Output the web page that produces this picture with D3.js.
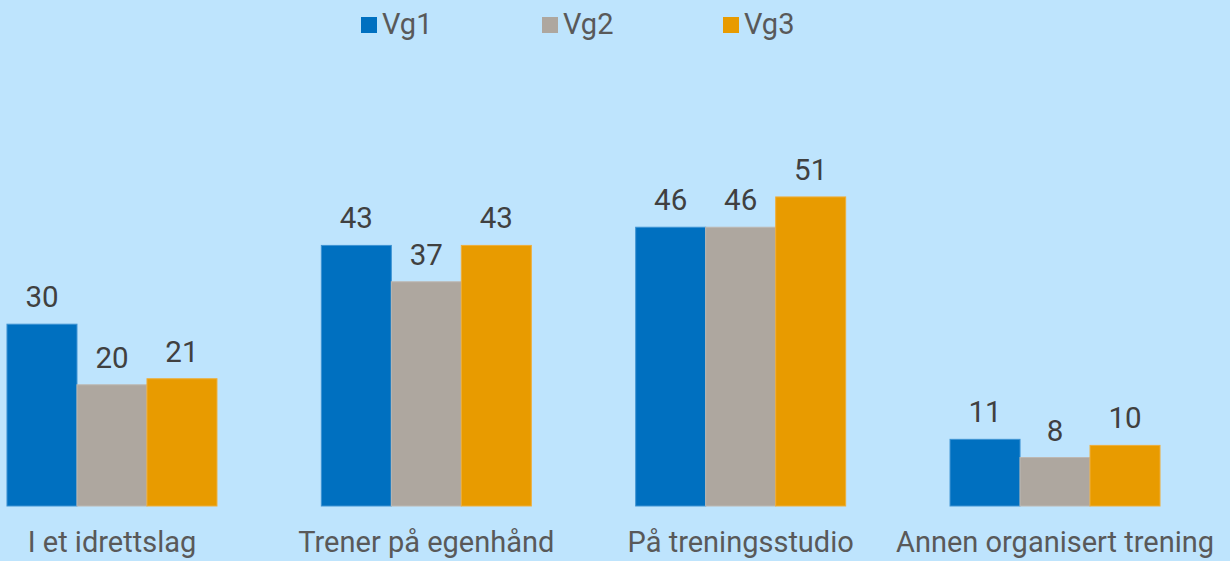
<!DOCTYPE html>
<html>
<head>
<meta charset="utf-8">
<script src="https://cdn.jsdelivr.net/npm/d3@7/dist/d3.min.js"></script>
<style>
  html, body { margin: 0; padding: 0; background: #BEE4FD; }
  svg { display: block; font-family: Roboto, "Noto Sans", Arial, sans-serif; }
</style>
</head>
<body>
<svg id="chart" width="1230" height="561"></svg>
<script>
// Share of pupils per type of training, by school year
const categories = ["I et idrettslag", "Trener på egenhånd", "På treningsstudio", "Annen organisert trening"];
const seriesNames = ["Vg1", "Vg2", "Vg3"];
const vg1 = [30, 43, 46, 11];
const vg2 = [20, 37, 46, 8];
const vg3 = [21, 43, 51, 10];
const seriesColors = ["#0070C0", "#AEA79F", "#E89B00"];
const seriesStroke = ["#3E93D3", "#BDB8B2", "#EFAE3A"];

const series = [vg1, vg2, vg3];
const svg = d3.select("#chart");

const x0 = d3.scaleBand()
  .domain(categories)
  .range([-45.2, 1212.2])
  .paddingInner(0.332)
  .paddingOuter(0.166);

const x1 = d3.scaleBand()
  .domain(seriesNames)
  .range([0, x0.bandwidth()]);

const y = d3.scaleLinear()
  .domain([0, 80])
  .range([506, 21.2]);

const rows = categories.map((c, i) => ({
  cat: c,
  vals: seriesNames.map((s, j) => ({ s, j, v: series[j][i] }))
}));

const groups = svg.selectAll("g.group")
  .data(rows)
  .join("g")
  .attr("class", "group")
  .attr("transform", d => `translate(${x0(d.cat)},0)`);

groups.selectAll("rect")
  .data(d => d.vals)
  .join("rect")
  .attr("x", d => x1(d.s))
  .attr("y", d => y(d.v))
  .attr("width", x1.bandwidth())
  .attr("height", d => y(0) - y(d.v))
  .attr("fill", d => seriesColors[d.j])
  .attr("stroke", d => seriesStroke[d.j])
  .attr("stroke-width", 1);

groups.selectAll("text.val")
  .data(d => d.vals)
  .join("text")
  .attr("class", "val")
  .attr("x", d => x1(d.s) + x1.bandwidth() / 2)
  .attr("y", d => y(d.v) - 17)
  .attr("text-anchor", "middle")
  .attr("font-size", 29.5)
  .attr("fill", "#404040")
  .text(d => d.v);

// Category axis labels
const xAxis = d3.axisBottom(x0).tickSize(0).tickPadding(0);
const axisG = svg.append("g")
  .attr("transform", `translate(0,${y(0)})`)
  .call(xAxis);
axisG.select(".domain").remove();
axisG.selectAll("text")
  .attr("dy", null)
  .attr("y", 46)
  .attr("font-size", 29)
  .attr("font-family", "Roboto, 'Noto Sans', Arial, sans-serif")
  .attr("fill", "#595959");

// Legend
const legend = svg.append("g").attr("transform", "translate(361,17)");
const item = legend.selectAll("g")
  .data(seriesNames)
  .join("g")
  .attr("transform", (d, i) => `translate(${i * 181},0)`);
item.append("rect")
  .attr("width", 16).attr("height", 16)
  .attr("fill", (d, i) => seriesColors[i]);
item.append("text")
  .attr("x", 21)
  .attr("y", 17)
  .attr("font-size", 29)
  .attr("fill", "#595959")
  .text(d => d);
</script>
</body>
</html>
